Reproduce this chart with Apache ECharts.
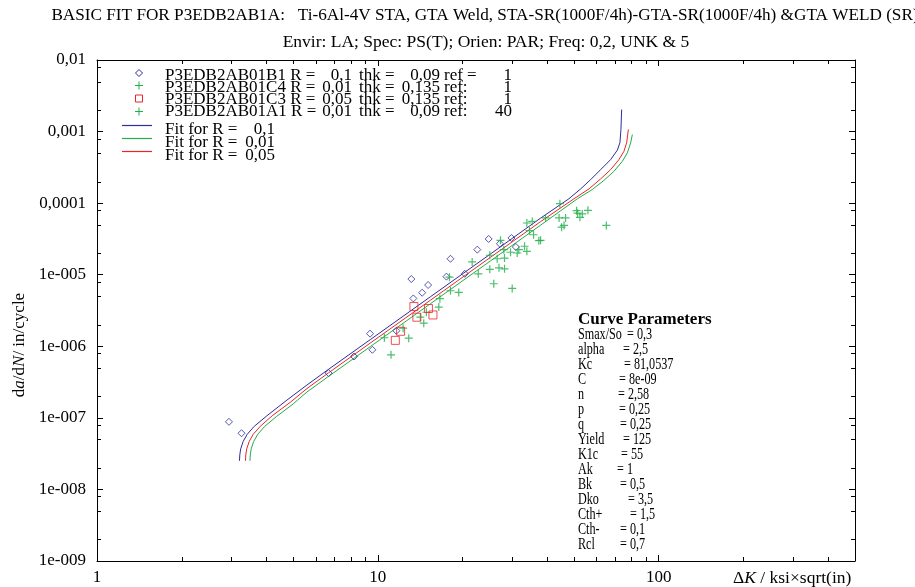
<!DOCTYPE html>
<html>
<head>
<meta charset="utf-8">
<script src="https://cdn.jsdelivr.net/npm/echarts@6/dist/echarts.min.js"></script>
</head>
<body style="margin:0;background:#fff">
<div id="main" style="width:915px;height:587px;"></div>
<script>
var serif = '"Liberation Serif", "Times New Roman", serif';

// measured points [dK (ksi*sqrt(in)), da/dN (in/cycle)]
var b1Data = [[2.95,8.8e-8],[3.27,6.1e-8],[6.68,4.22e-7],[8.23,7.2e-7],[9.56,8.93e-7],[9.38,1.5e-6],
  [11.64,1.65e-6],[13.16,8.7e-6],[13.38,4.66e-6],[14.38,5.6e-6],[15.1,7.18e-6],[17.55,9.4e-6],
  [18.14,1.67e-5],[20.4,1.03e-5],[22.6,2.24e-5],[24.8,3.16e-5],[27.2,2.71e-5],[29.9,3.26e-5],[31.0,2.44e-5]];
var c4Data = [[10.55,1.315e-6],[11.14,7.6e-7],[12.30,1.79e-6],[12.88,1.30e-6],[14.17,2.56e-6],[14.57,2.10e-6],
  [16.48,3.53e-6],[16.63,4.62e-6],[18.14,5.97e-6],[19.41,5.65e-6],[17.99,9.23e-6],[21.67,1.51e-5],
  [22.79,1.03e-5],[25.04,1.87e-5],[25.04,1.19e-5],[25.87,7.48e-6],[26.6,1.67e-5],[27.0,1.25e-5],
  [28.25,1.21e-5],[14.89,2.99e-6]];
var c3Data = [[13.44,3.59e-6],[13.77,2.55e-6],[15.14,3.37e-6],[15.71,2.74e-6],[12.05,1.62e-6],[11.54,1.21e-6]];
var a1Data = [[27.33,3.02e-5],[28.09,2.24e-5],[28.25,1.71e-5],[29.68,2.06e-5],[30.09,6.43e-6],[31.35,2.01e-5],
  [31.77,2.24e-5],[33.29,2.50e-5],[33.93,2.12e-5],[33.93,5.28e-5],[35.46,5.56e-5],[34.68,4.12e-5],
  [35.85,3.62e-5],[37.44,2.99e-5],[39.55,6.21e-5],[44.48,9.84e-5],[44.19,6.21e-5],[46.6,6.21e-5],
  [45.1,4.62e-5],[46.03,4.89e-5],[51.02,7.86e-5],[51.43,7.24e-5],[53.46,7.06e-5],[52.42,6.33e-5],
  [55.98,7.93e-5],[65.09,4.88e-5],[37.96,3.02e-5]];

// fit curves
var fit01 = [[3.216,2.51e-8],[3.224,3.04e-8],[3.248,3.68e-8],[3.315,4.69e-8],[3.425,5.88e-8],[3.628,7.60e-8],
  [4.027,1.07e-7],[4.746,1.77e-7],[5.593,2.88e-7],[6.677,4.77e-7],[9.40,1.24e-6],[15.39,4.92e-6],
  [25.18,1.95e-5],[37.96,6.17e-5],[47.88,1.15e-4],[52.72,1.58e-4],[57.24,2.13e-4],[62.13,2.94e-4],
  [67.44,4.06e-4],[71.26,5.51e-4],[72.78,7.02e-4],[73.38,1.07e-3],[73.81,2.03e-3]];
var fit001 = [[3.505,2.51e-8],[3.514,3.04e-8],[3.540,3.68e-8],[3.614,4.69e-8],[3.735,5.88e-8],[3.955,7.60e-8],
  [4.364,1.05e-7],[4.998,1.57e-7],[5.593,2.30e-7],[6.677,3.80e-7],[9.40,9.9e-7],[15.39,3.93e-6],
  [25.18,1.56e-5],[37.96,4.92e-5],[51.31,1.15e-4],[58.03,1.55e-4],[63.83,2.08e-4],[69.28,2.78e-4],
  [74.22,3.84e-4],[77.33,5.04e-4],[79.46,6.95e-4],[80.58,9.08e-4]];
var fit005 = [[3.379,2.51e-8],[3.387,3.04e-8],[3.412,3.68e-8],[3.483,4.69e-8],[3.598,5.88e-8],[3.812,7.60e-8],
  [4.206,1.07e-7],[4.876,1.65e-7],[5.593,2.57e-7],[6.677,4.26e-7],[9.40,1.11e-6],[15.39,4.40e-6],
  [25.18,1.75e-5],[37.96,5.51e-5],[49.89,1.15e-4],[56.44,1.58e-4],[62.13,2.18e-4],[67.44,2.94e-4],
  [72.20,4.06e-4],[75.20,5.30e-4],[76.88,6.95e-4],[77.98,1.07e-3]];

var xMinor = [2,3,4,5,6,7,8,9,20,30,40,50,60,70,80,90,200,300,400];
var yMinor = [2e-9,5e-9,8e-9,2e-8,5e-8,8e-8,2e-7,5e-7,8e-7,2e-6,5e-6,8e-6,2e-5,5e-5,8e-5,2e-4,5e-4,8e-4,2e-3,5e-3,8e-3];

var legendRows = [
  ['P3EDB2AB01B1 R =', '0,1', 'thk =', '0,09', 'ref =', '1'],
  ['P3EDB2AB01C4 R =', '0,01', 'thk =', '0,135', 'ref:', '1'],
  ['P3EDB2AB01C3 R =', '0,05', 'thk =', '0,135', 'ref:', '1'],
  ['P3EDB2AB01A1 R =', '0,01', 'thk =', '0,09', 'ref:', '40']
];
var fitRows = [['Fit for R =', '0,1'], ['Fit for R =', '0,01'], ['Fit for R =', '0,05']];
var params = [['Smax/So', '= 0,3'], ['alpha', '= 2,5'], ['Kc', '= 81,0537'], ['C', '= 8e-09'], ['n', '= 2,58'],
  ['p', '= 0,25'], ['q', '= 0,25'], ['Yield', '= 125'], ['K1c', '= 55'], ['Ak', '= 1'], ['Bk', '= 0,5'],
  ['Dko', '= 3,5'], ['Cth+', '= 1,5'], ['Cth-', '= 0,1'], ['Rcl', '= 0,7']];
var paramEqX = [627, 623, 624, 619, 618, 619, 620, 623, 621, 617, 620, 628, 630, 620, 620];

var BLUE = '#2e2e9c', GREEN = '#1fae48', RED = '#e8262a';
var plusPath = 'path://M0,5L10,5M5,0L5,10';

function yLabel(v) {
  var e = Math.round(Math.log(v) / Math.LN10);
  if (Math.abs(Math.log(v) / Math.LN10 - e) > 1e-6) return '';
  if (e >= -4) return '0,' + new Array(-e).join('0') + '1';
  return '1e-00' + (-e);
}
function xLabel(v) {
  var l = Math.log(v) / Math.LN10;
  if (Math.abs(l - Math.round(l)) > 1e-6) return '';
  return String(Math.round(v));
}

function tickSeries(vals, isX) {
  return {
    type: 'custom', silent: true, clip: false, z: 5,
    data: vals.map(function (v) { return isX ? [v, 1e-9] : [1, v]; }),
    renderItem: function (p, api) {
      var v = api.value(isX ? 0 : 1);
      var a = api.coord(isX ? [v, 1e-9] : [1, v]);
      var b = api.coord(isX ? [v, 1e-2] : [500, v]);
      var st = {stroke: '#000', lineWidth: 1};
      if (isX) {
        var x = Math.round(a[0]) + 0.5;
        return {type: 'group', children: [
          {type: 'line', shape: {x1: x, y1: a[1], x2: x, y2: a[1] - 4}, style: st},
          {type: 'line', shape: {x1: x, y1: b[1], x2: x, y2: b[1] + 4}, style: st}]};
      }
      var y = Math.round(a[1]) + 0.5;
      return {type: 'group', children: [
        {type: 'line', shape: {x1: a[0], y1: y, x2: a[0] + 4, y2: y}, style: st},
        {type: 'line', shape: {x1: b[0], y1: y, x2: b[0] - 4, y2: y}, style: st}]};
    }
  };
}

// legend + parameter block as plain text graphics
var g = [];
var markY = [73, 85.5, 98.5, 111.5], textY = [76, 88, 100, 112];
g.push({type: 'polygon', shape: {points: [[139, markY[0] - 3.5], [142.5, markY[0]], [139, markY[0] + 3.5], [135.5, markY[0]]]},
  style: {fill: 'none', stroke: BLUE, lineWidth: 1}});
[1, 3].forEach(function (i) {
  g.push({type: 'line', shape: {x1: 135, y1: markY[i], x2: 143, y2: markY[i]}, style: {stroke: GREEN, lineWidth: 1}});
  g.push({type: 'line', shape: {x1: 139, y1: markY[i] - 4, x2: 139, y2: markY[i] + 4}, style: {stroke: GREEN, lineWidth: 1}});
});
g.push({type: 'rect', shape: {x: 135.5, y: markY[2] - 3.5, width: 7, height: 7}, style: {fill: 'none', stroke: RED, lineWidth: 1}});
var colX = [[165, 'left'], [352, 'right'], [359, 'left'], [440, 'right'], [444, 'left'], [512, 'right']];
legendRows.forEach(function (row, i) {
  row.forEach(function (t, j) {
    g.push({type: 'text', x: colX[j][0], y: textY[i],
      style: {text: t, font: '17px ' + serif, fill: '#000', textAlign: colX[j][1], textVerticalAlign: 'middle'}});
  });
});
var lineY = [125.5, 138.5, 151.5], fitColors = [BLUE, GREEN, RED];
fitRows.forEach(function (row, i) {
  g.push({type: 'line', shape: {x1: 122, y1: lineY[i], x2: 152, y2: lineY[i]}, style: {stroke: fitColors[i], lineWidth: 1.2}});
  g.push({type: 'text', x: 165, y: lineY[i] + 4,
    style: {text: row[0], font: '17px ' + serif, fill: '#000', textVerticalAlign: 'middle'}});
  g.push({type: 'text', x: 275, y: lineY[i] + 4,
    style: {text: row[1], font: '17px ' + serif, fill: '#000', textAlign: 'right', textVerticalAlign: 'middle'}});
});
g.push({type: 'text', x: 578, y: 320, style: {text: 'Curve Parameters', font: 'bold 17px ' + serif, fill: '#000', textVerticalAlign: 'middle'}});
params.forEach(function (p, i) {
  var y = 335 + i * 15;
  g.push({type: 'text', x: 578, y: y, scaleX: 0.76,
    style: {text: p[0], font: '16px ' + serif, fill: '#000', textVerticalAlign: 'middle'}});
  g.push({type: 'text', x: paramEqX[i], y: y, scaleX: 0.76,
    style: {text: p[1], font: '16px ' + serif, fill: '#000', textVerticalAlign: 'middle'}});
});
g.push({type: 'text', x: 20, y: 345, rotation: Math.PI / 2,
  style: {text: '{n|d}{i|a}{n|/d}{i|N}{n|/ in/cycle}', textAlign: 'center', textVerticalAlign: 'middle',
    rich: {n: {font: '17px ' + serif, fill: '#000'}, i: {font: 'italic 17px ' + serif, fill: '#000'}}}});
g.push({type: 'text', x: 733, y: 578,
  style: {text: '{n|\u0394}{i|K}{n| / ksi\u00d7sqrt(in)}', textVerticalAlign: 'middle',
    rich: {n: {font: '17.5px ' + serif, fill: '#000'}, i: {font: 'italic 17.5px ' + serif, fill: '#000'}}}});

function axisCommon(pos) {
  return {
    position: pos, axisLine: {show: true, onZero: false, lineStyle: {color: '#000', width: 1}},
    axisTick: {show: true, inside: true, length: 6, lineStyle: {color: '#000'}},
    splitLine: {show: false}, minorTick: {show: false}
  };
}

var xa0 = Object.assign(axisCommon('bottom'), {type: 'log', logBase: 10, min: 1, max: 500,
  axisLabel: {formatter: xLabel, color: '#000', fontFamily: serif, fontSize: 17, margin: 8}});
var xa1 = Object.assign(axisCommon('top'), {type: 'log', logBase: 10, min: 1, max: 500, axisLabel: {show: false}});
var ya0 = Object.assign(axisCommon('left'), {type: 'log', logBase: 10, min: 1e-9, max: 1e-2,
  axisLabel: {formatter: yLabel, color: '#000', fontFamily: serif, fontSize: 17, margin: 11}});
var ya1 = Object.assign(axisCommon('right'), {type: 'log', logBase: 10, min: 1e-9, max: 1e-2, axisLabel: {show: false}});

var myChart = echarts.init(document.getElementById('main'));
var option = {
  backgroundColor: '#fff',
  animation: false,
  title: [
    {text: 'BASIC FIT FOR P3EDB2AB1A:   Ti-6Al-4V STA, GTA Weld, STA-SR(1000F/4h)-GTA-SR(1000F/4h) &GTA WELD (SR)',
      left: 480, top: 2, textAlign: 'center',
      textStyle: {fontFamily: serif, fontSize: 17.2, fontWeight: 'normal', color: '#000'}},
    {text: 'Envir: LA; Spec: PS(T); Orien: PAR; Freq: 0,2, UNK & 5',
      left: 481, top: 28, textAlign: 'center',
      textStyle: {fontFamily: serif, fontSize: 17.5, fontWeight: 'normal', color: '#000'}}
  ],
  grid: {left: 97, right: 60, top: 60, bottom: 26, containLabel: false},
  xAxis: [xa0, xa1],
  yAxis: [ya0, ya1],
  graphic: g,
  series: [
    {name: 'fit 0,1', type: 'line', data: fit01, showSymbol: false, symbol: 'none', lineStyle: {color: BLUE, width: 1}, z: 3},
    {name: 'fit 0,01', type: 'line', data: fit001, showSymbol: false, symbol: 'none', lineStyle: {color: GREEN, width: 1}, z: 3},
    {name: 'fit 0,05', type: 'line', data: fit005, showSymbol: false, symbol: 'none', lineStyle: {color: RED, width: 1}, z: 3},
    {name: 'P3EDB2AB01B1', type: 'scatter', data: b1Data, symbol: 'diamond', symbolSize: [7, 7],
      itemStyle: {color: 'none', borderColor: BLUE, borderWidth: 1}, z: 4},
    {name: 'P3EDB2AB01C4', type: 'scatter', data: c4Data, symbol: plusPath, symbolSize: 8,
      itemStyle: {color: 'none', borderColor: GREEN, borderWidth: 1.2}, z: 4},
    {name: 'P3EDB2AB01C3', type: 'scatter', data: c3Data, symbol: 'rect', symbolSize: 8,
      itemStyle: {color: 'none', borderColor: RED, borderWidth: 1}, z: 4},
    {name: 'P3EDB2AB01A1', type: 'scatter', data: a1Data, symbol: plusPath, symbolSize: 8,
      itemStyle: {color: 'none', borderColor: GREEN, borderWidth: 1.2}, z: 4},
    tickSeries(xMinor, true),
    tickSeries(yMinor, false)
  ]
};
myChart.setOption(option);
</script>
</body>
</html>
